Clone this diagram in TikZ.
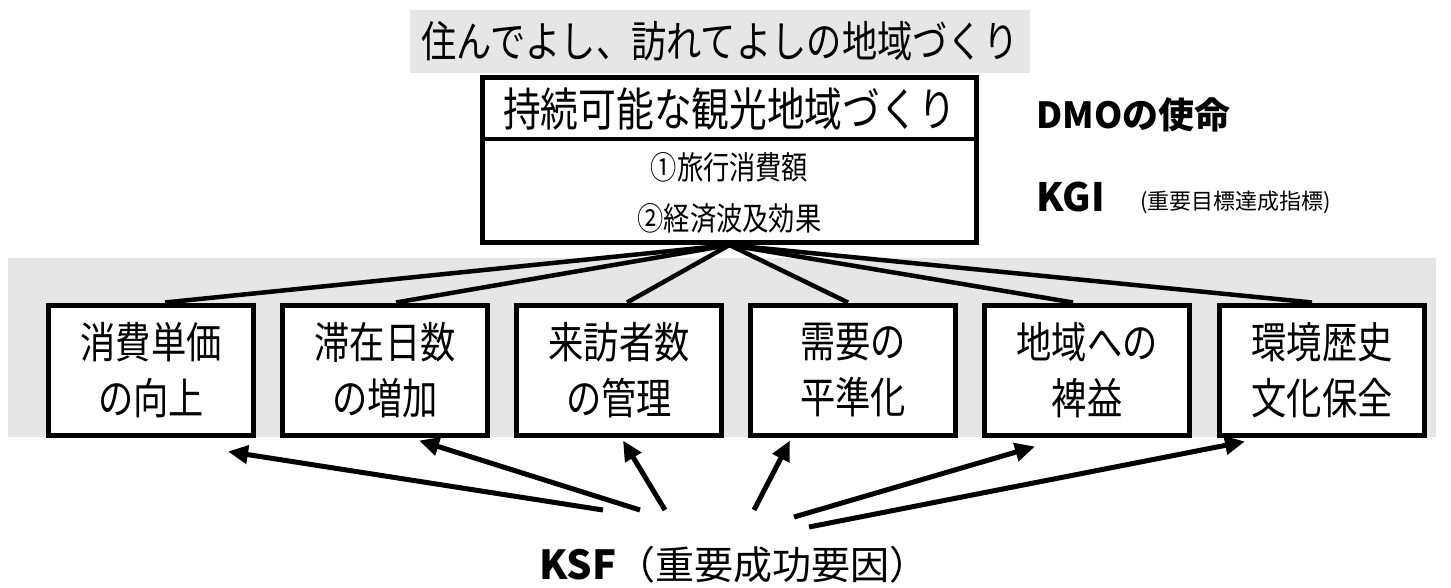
\documentclass[tikz,border=0pt]{standalone}
\usepackage{fontspec}
\usetikzlibrary{arrows.meta,calc}
\newfontfamily\jp[FakeStretch=0.82]{Noto Sans CJK JP}
\newfontfamily\jpw{Noto Sans CJK JP}
\definecolor{bandgray}{HTML}{E6E6E6}
\pgfdeclarelayer{bg}
\pgfsetlayers{bg,main}
\tikzset{
  kbox/.style={draw, line width=5pt, fill=white, minimum width=205pt, minimum height=130pt,
    inner sep=0pt, align=center, font=\jp\fontsize{43}{56}\selectfont},
  txt/.style={inner sep=0pt},
  link/.style={line width=4.5pt},
  arr/.style={line width=5pt, -{Triangle[length=20pt,width=18pt]}},
}
\begin{document}
\begin{tikzpicture}[x=1pt,y=-1pt]
\useasboundingbox (0,0) rectangle (1451,587);

% banner
\node[fill=bandgray, minimum width=620pt, minimum height=63pt, inner sep=0pt,
  font=\jp\fontsize{43}{43}\selectfont] (banner) at (720,41.5) {住んでよし、訪れてよしの地域づくり};

% main box
\node[draw, fill=white, line width=5pt, minimum width=494pt, minimum height=165pt, inner sep=0pt] (mainbox) at (729.5,160) {};
\coordinate (divL) at (mainbox.west |- 0,139);
\coordinate (divR) at (mainbox.east |- 0,139);
\draw[line width=4.5pt] (divL) -- (divR);
\node[txt, font=\jp\fontsize{46}{46}\selectfont] (title) at (729.5,109) {持続可能な観光地域づくり};
\node[txt, font=\jp\fontsize{32}{32}\selectfont] (kgi1) at (729.5,167) {①旅行消費額};
\node[txt, font=\jp\fontsize{32}{32}\selectfont] (kgi2) at (729.5,218) {②経済波及効果};

% side labels
\node[txt, anchor=west, font=\jpw\bfseries\fontsize{36}{36}\selectfont] (dmo) at (1036,115) {DMOの使命};
\node[txt, anchor=west, font=\jpw\bfseries\fontsize{39}{39}\selectfont] (kgi) at (1036,197) {KGI};
\node[txt, anchor=west, font=\jpw\fontsize{22}{22}\selectfont] (kgisub) at (1140,202) {(重要目標達成指標)};

% KSF boxes
\node[kbox] (b1) at (151,370) {消費単価\\の向上};
\node[kbox] (b2) at (385,370) {滞在日数\\の増加};
\node[kbox] (b3) at (619,370) {来訪者数\\の管理};
\node[kbox] (b4) at (853,370) {需要の\\平準化};
\node[kbox] (b5) at (1087,370) {地域への\\裨益};
\node[kbox] (b6) at (1322,370) {環境歴史\\文化保全};

\begin{pgfonlayer}{bg}
\fill[bandgray] (8,258) rectangle (1436,437);
\draw[link] (mainbox.south) -- ([shift={(14,0)}]b1.north);
\draw[link] (mainbox.south) -- ([shift={(11,0)}]b2.north);
\draw[link] (mainbox.south) -- ([shift={(8,0)}]b3.north);
\draw[link] (mainbox.south) -- ([shift={(-5,0)}]b4.north);
\draw[link] (mainbox.south) -- ([shift={(-14,0)}]b5.north);
\draw[link] (mainbox.south) -- ([shift={(-10,0)}]b6.north);
\end{pgfonlayer}

% KSF label and arrows
\node[txt] (ksf) at (734,565) {{\jpw\bfseries\fontsize{40}{40}\selectfont KSF}{\jpw\fontsize{39}{39}\selectfont（重要成功要因）}};
\coordinate (t1) at (603,510);
\coordinate (t2) at (640,510);
\coordinate (t3) at (665,510);
\coordinate (t4) at (754,510);
\coordinate (t5) at (794,517);
\coordinate (t6) at (809,527);
\draw[arr] (t1) -- ([shift={(77,14)}]b1.south);
\draw[arr] (t2) -- ([shift={(34,3)}]b2.south);
\draw[arr] (t3) -- ([shift={(4,3)}]b3.south);
\draw[arr] (t4) -- ([shift={(-63,3)}]b4.south);
\draw[arr] (t5) -- ([shift={(-52,9)}]b5.south);
\draw[arr] (t6) -- ([shift={(-77,4)}]b6.south);
\end{tikzpicture}
\end{document}
